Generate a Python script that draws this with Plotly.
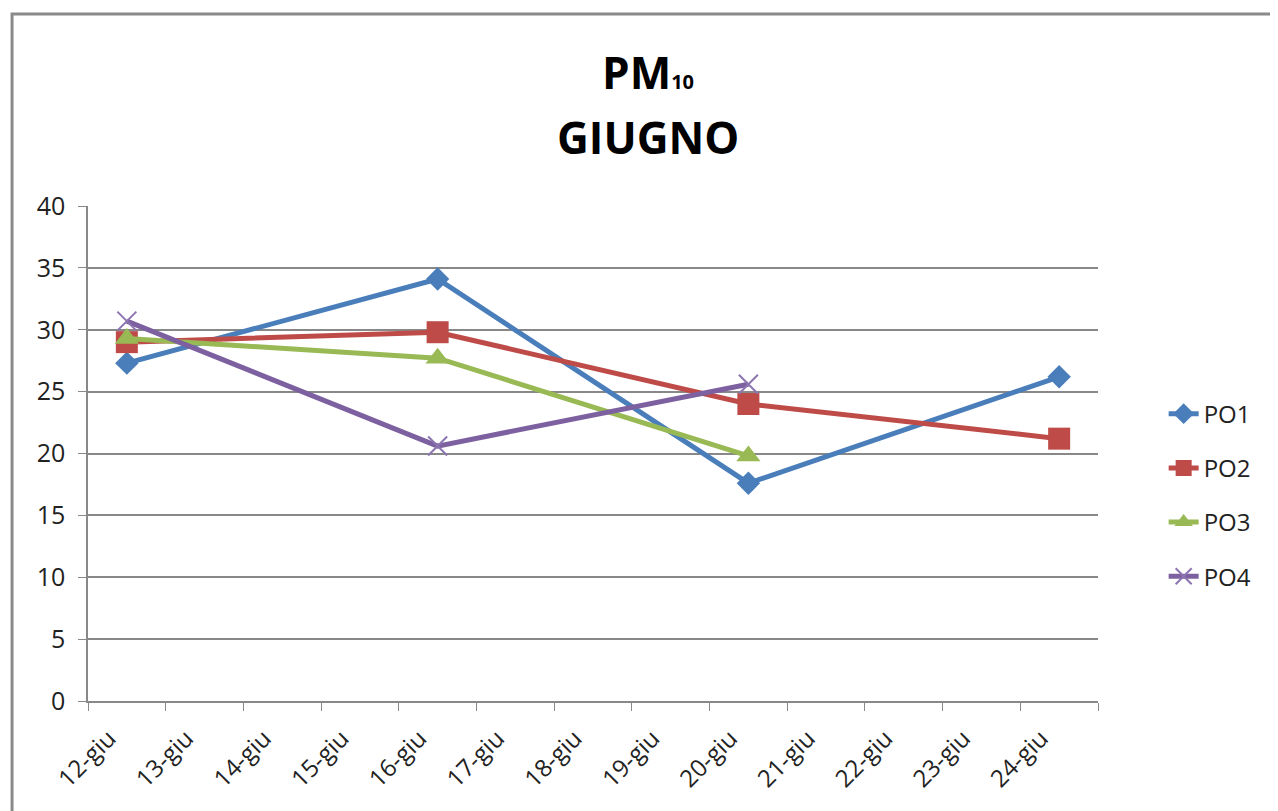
import plotly.graph_objects as go

days = ["12-giu", "13-giu", "14-giu", "15-giu", "16-giu", "17-giu", "18-giu",
        "19-giu", "20-giu", "21-giu", "22-giu", "23-giu", "24-giu"]

po1_x = ["12-giu", "16-giu", "20-giu", "24-giu"]
po1_y = [27.3, 34.1, 17.6, 26.2]
po2_x = ["12-giu", "16-giu", "20-giu", "24-giu"]
po2_y = [29.0, 29.8, 24.0, 21.2]
po3_x = ["12-giu", "16-giu", "20-giu"]
po3_y = [29.3, 27.7, 19.8]
po4_x = ["12-giu", "16-giu", "20-giu"]
po4_y = [30.7, 20.6, 25.6]

FONT = "Open Sans"
GRID = "#888888"

series = [
    ("PO1", po1_x, po1_y, "#4A7EBB", "diamond", 18),
    ("PO2", po2_x, po2_y, "#BE4B48", "square", 22),
    ("PO3", po3_x, po3_y, "#98B954", "triangle-up", 21),
    ("PO4", po4_x, po4_y, "#7D60A0", "x-thin", 19),
]

fig = go.Figure()
for name, xs, ys, col, sym, sz in series:
    marker = dict(symbol=sym, size=sz, color=col)
    if sym == "x-thin":
        marker["line"] = dict(color="#8C74B0", width=2)
    fig.add_trace(go.Scatter(
        x=xs, y=ys, name=name, legendgroup=name, mode="lines+markers",
        line=dict(color=col, width=5), marker=marker,
    ))

# page body has an 8px margin, so the figure is a bit smaller than the window
fig.update_layout(
    width=1270, height=803,
    margin=dict(l=80, r=180, t=198, b=110),
    paper_bgcolor="white", plot_bgcolor="white",
    font=dict(family=FONT, color="#222222"),
    showlegend=True,
    legend=dict(x=1.065, xanchor="left", y=0.416, yanchor="middle",
                font=dict(size=24, color="#222222"), tracegroupgap=20,
                bgcolor="rgba(0,0,0,0)"),
    xaxis=dict(type="category", categoryorder="array", categoryarray=days,
               range=[-0.5, len(days) - 0.5], tickvals=days,
               tickangle=-45, tickfont=dict(size=24), tickson="boundaries",
               ticks="outside", ticklen=8, tickcolor=GRID,
               ticklabelstandoff=12, ticklabelshift=-18,
               showline=True, linecolor=GRID, linewidth=1.5,
               showgrid=False, zeroline=False),
    yaxis=dict(range=[0, 40], dtick=5, tickfont=dict(size=25),
               ticks="outside", ticklen=8, tickcolor=GRID,
               showline=True, linecolor=GRID, linewidth=1.5,
               showgrid=True, gridcolor=GRID, gridwidth=1.5,
               zeroline=False, ticklabelstandoff=8),
)

# two-line bold title
fig.add_annotation(text="<b>PM<span style='font-size:20px'>10</span></b>",
                   xref="paper", yref="paper",
                   x=0.554, y=1.271, xanchor="center", yanchor="middle",
                   showarrow=False, font=dict(size=44, color="black", family=FONT))
fig.add_annotation(text="<b>GIUGNO</b>", xref="paper", yref="paper",
                   x=0.554, y=1.139, xanchor="center", yanchor="middle",
                   showarrow=False, font=dict(size=44, color="black", family=FONT))

# chart frame (cut off at right and bottom)
fig.add_shape(type="rect", xref="paper", yref="paper",
              x0=-0.0752, y0=-0.25, x1=1.2, y1=1.388,
              line=dict(color="#8A8A8A", width=3), layer="below")

fig.write_html("out.html")
